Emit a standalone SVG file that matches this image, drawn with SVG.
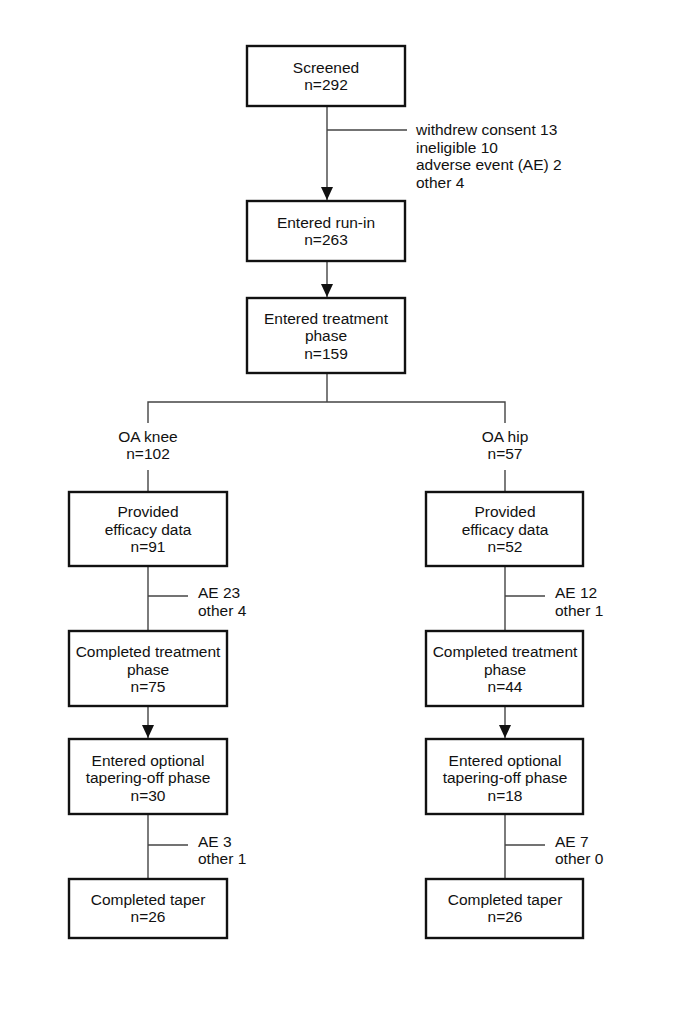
<svg xmlns="http://www.w3.org/2000/svg" width="685" height="1016" viewBox="0 0 685 1016">
<style>
.box{fill:#fff;stroke:#111;stroke-width:2.4}
.t{font-family:"Liberation Sans",Arial,sans-serif;font-size:15.5px;fill:#111}
.c{text-anchor:middle}
.ln{stroke:#444;stroke-width:1.4;fill:none}
.ar{marker-end:url(#ah)}
</style>
<defs>
<marker id="ah" markerWidth="13" markerHeight="12" refX="13" refY="6" orient="auto" markerUnits="userSpaceOnUse" viewBox="0 0 13 12">
<path d="M0,0 L13,6 L0,12 Z" fill="#111"/>
</marker>
</defs>
<rect width="685" height="1016" fill="#fff"/>
<g id="connectors">
<line class="ln ar" x1="327" y1="106" x2="327" y2="200"/>
<line class="ln" x1="327" y1="130" x2="407" y2="130"/>
<line class="ln ar" x1="327" y1="261" x2="327" y2="297"/>
<line class="ln" x1="327" y1="373" x2="327" y2="402"/>
<polyline class="ln" points="148,423 148,402 505,402 505,423"/>
<line class="ln" x1="148" y1="470" x2="148" y2="492"/>
<line class="ln" x1="505" y1="470" x2="505" y2="492"/>
<line class="ln" x1="148" y1="566" x2="148" y2="631"/>
<line class="ln" x1="148" y1="596" x2="188" y2="596"/>
<line class="ln" x1="505" y1="566" x2="505" y2="631"/>
<line class="ln" x1="505" y1="596" x2="545" y2="596"/>
<line class="ln ar" x1="148" y1="706" x2="148" y2="738"/>
<line class="ln ar" x1="505" y1="706" x2="505" y2="738"/>
<line class="ln" x1="148" y1="814" x2="148" y2="879"/>
<line class="ln" x1="148" y1="845" x2="188" y2="845"/>
<line class="ln" x1="505" y1="814" x2="505" y2="879"/>
<line class="ln" x1="505" y1="845" x2="545" y2="845"/>
</g>
<g id="excl-top">
<text class="t" x="416" y="135">withdrew consent 13</text>
<text class="t" x="416" y="152.5">ineligible 10</text>
<text class="t" x="416" y="170">adverse event (AE) 2</text>
<text class="t" x="416" y="187.5">other 4</text>
</g>
<g id="screened">
<rect class="box" x="247" y="46" width="158" height="60"/>
<text class="t c" x="326" y="72.5">Screened</text>
<text class="t c" x="326" y="90">n=292</text>
</g>
<g id="runin">
<rect class="box" x="247" y="201" width="158" height="60"/>
<text class="t c" x="326" y="227.5">Entered run-in</text>
<text class="t c" x="326" y="245">n=263</text>
</g>
<g id="treatment">
<rect class="box" x="247" y="298" width="158" height="75"/>
<text class="t c" x="326" y="323.5">Entered treatment</text>
<text class="t c" x="326" y="341">phase</text>
<text class="t c" x="326" y="358.5">n=159</text>
</g>
<g id="oaknee">
<text class="t c" x="148" y="442">OA knee</text>
<text class="t c" x="148" y="459">n=102</text>
</g>
<g id="oahip">
<text class="t c" x="505" y="442">OA hip</text>
<text class="t c" x="505" y="459">n=57</text>
</g>
<g id="prov-knee">
<rect class="box" x="69" y="492" width="158" height="74"/>
<text class="t c" x="148" y="517">Provided</text>
<text class="t c" x="148" y="534.5">efficacy data</text>
<text class="t c" x="148" y="552">n=91</text>
</g>
<g id="prov-hip">
<rect class="box" x="426" y="492" width="157" height="74"/>
<text class="t c" x="505" y="517">Provided</text>
<text class="t c" x="505" y="534.5">efficacy data</text>
<text class="t c" x="505" y="552">n=52</text>
</g>
<g id="excl-knee-1">
<text class="t" x="198" y="598">AE 23</text>
<text class="t" x="198" y="615.5">other 4</text>
</g>
<g id="excl-hip-1">
<text class="t" x="555" y="598">AE 12</text>
<text class="t" x="555" y="615.5">other 1</text>
</g>
<g id="comp-knee">
<rect class="box" x="69" y="631" width="158" height="75"/>
<text class="t c" x="148" y="657">Completed treatment</text>
<text class="t c" x="148" y="674.5">phase</text>
<text class="t c" x="148" y="692">n=75</text>
</g>
<g id="comp-hip">
<rect class="box" x="426" y="631" width="157" height="75"/>
<text class="t c" x="505" y="657">Completed treatment</text>
<text class="t c" x="505" y="674.5">phase</text>
<text class="t c" x="505" y="692">n=44</text>
</g>
<g id="taper-knee">
<rect class="box" x="69" y="739" width="158" height="75"/>
<text class="t c" x="148" y="765.5">Entered optional</text>
<text class="t c" x="148" y="783">tapering-off phase</text>
<text class="t c" x="148" y="800.5">n=30</text>
</g>
<g id="taper-hip">
<rect class="box" x="426" y="739" width="157" height="75"/>
<text class="t c" x="505" y="765.5">Entered optional</text>
<text class="t c" x="505" y="783">tapering-off phase</text>
<text class="t c" x="505" y="800.5">n=18</text>
</g>
<g id="excl-knee-2">
<text class="t" x="198" y="846.5">AE 3</text>
<text class="t" x="198" y="864">other 1</text>
</g>
<g id="excl-hip-2">
<text class="t" x="555" y="846.5">AE 7</text>
<text class="t" x="555" y="864">other 0</text>
</g>
<g id="done-knee">
<rect class="box" x="69" y="879" width="158" height="59"/>
<text class="t c" x="148" y="904.5">Completed taper</text>
<text class="t c" x="148" y="922">n=26</text>
</g>
<g id="done-hip">
<rect class="box" x="426" y="879" width="157" height="59"/>
<text class="t c" x="505" y="904.5">Completed taper</text>
<text class="t c" x="505" y="922">n=26</text>
</g>
</svg>
